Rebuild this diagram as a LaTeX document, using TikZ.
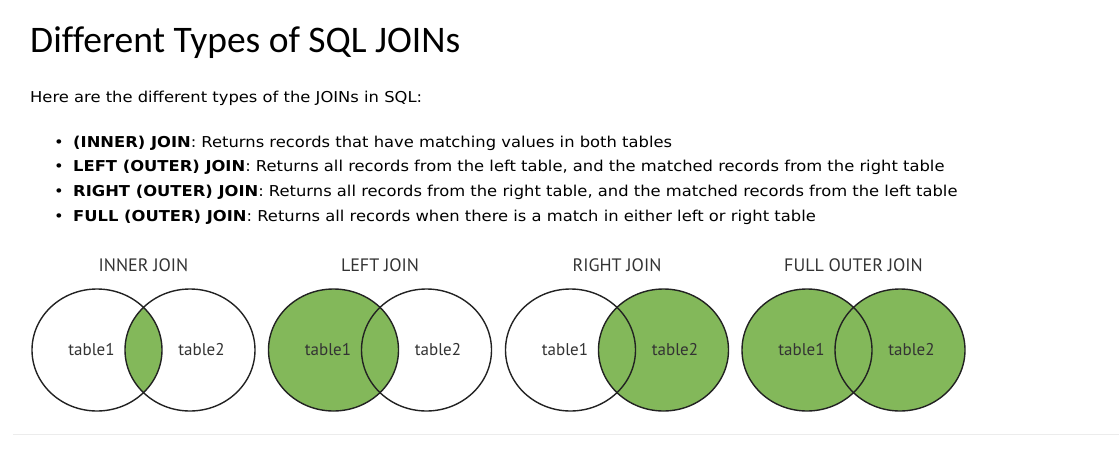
\documentclass[tikz,border=0pt]{standalone}
\usepackage{fontspec}
\setmainfont{DejaVu Sans}[FakeStretch=1.09]
\newfontfamily\headfont{Carlito}[Ligatures=CommonOff]
\newfontfamily\vennfont{PT Sans}
\usepackage{tikz}
\usetikzlibrary{positioning}
\definecolor{joingreen}{RGB}{131,184,90}
\definecolor{vennedge}{RGB}{34,34,34}
\definecolor{venntext}{RGB}{51,51,51}
\definecolor{rulegray}{RGB}{236,236,236}
\tikzset{
  headtext/.style={anchor=base west,inner sep=0pt,font=\headfont\fontsize{37.5}{44}\selectfont},
  bodytext/.style={anchor=base west,inner sep=0pt,font=\fontsize{15}{18}\selectfont},
  venntitle/.style={anchor=base,inner sep=0pt,text=venntext,font=\vennfont\fontsize{18}{21}\selectfont},
  tablelabel/.style={anchor=base,inner sep=0pt,text=venntext,font=\vennfont\fontsize{17}{20}\selectfont},
  vennline/.style={draw=vennedge,line width=1.4pt}
}
\newcommand{\joinitem}[3]{%
  \node[bodytext] (item#1) at (73,{-147-24.7*(#1-1)}) {\textbf{#2}: #3};%
  \node[bodytext,anchor=base] (dot#1) at (59,{-147-24.7*(#1-1)}) {•};%
}
\newcommand{\vennpair}[6]{%
  \node[venntitle] (#1title) at (#2,-271) {#3};%
  \fill[#4] (#2-46.5,-350) ellipse [x radius=65pt,y radius=61pt];%
  \fill[#5] (#2+46.5,-350) ellipse [x radius=65pt,y radius=61pt];%
  \begin{scope}
    \clip (#2-46.5,-350) ellipse [x radius=65pt,y radius=61pt];
    \fill[#6] (#2+46.5,-350) ellipse [x radius=65pt,y radius=61pt];
  \end{scope}
  \draw[vennline] (#2-46.5,-350) ellipse [x radius=65pt,y radius=61pt];%
  \draw[vennline] (#2+46.5,-350) ellipse [x radius=65pt,y radius=61pt];%
  \node[tablelabel] (#1left) at (#2-52,-355) {table1};%
  \node[tablelabel] (#1right) at (#2+58,-355) {table2};%
}

\begin{document}
\begin{tikzpicture}[x=1pt,y=1pt]
  \useasboundingbox (0,0) rectangle (1119,-450);
  \node[headtext] (heading) at (30,-52) {Different Types of SQL JOINs};
  \node[bodytext] (intro) at (30,-102) {Here are the different types of the JOINs in SQL:};
  \joinitem{1}{(INNER) JOIN}{Returns records that have matching values in both tables}
  \joinitem{2}{LEFT (OUTER) JOIN}{Returns all records from the left table, and the matched records from the right table}
  \joinitem{3}{RIGHT (OUTER) JOIN}{Returns all records from the right table, and the matched records from the left table}
  \joinitem{4}{FULL (OUTER) JOIN}{Returns all records when there is a match in either left or right table}
  \vennpair{inner}{143.5}{INNER JOIN}{white}{white}{joingreen}
  \vennpair{leftj}{380}{LEFT JOIN}{joingreen}{white}{joingreen}
  \vennpair{rightj}{617}{RIGHT JOIN}{white}{joingreen}{joingreen}
  \vennpair{fullj}{853.5}{FULL OUTER JOIN}{joingreen}{joingreen}{joingreen}
  \draw[rulegray,line width=1pt] (13,-434) -- (1119,-434);
\end{tikzpicture}
\end{document}
